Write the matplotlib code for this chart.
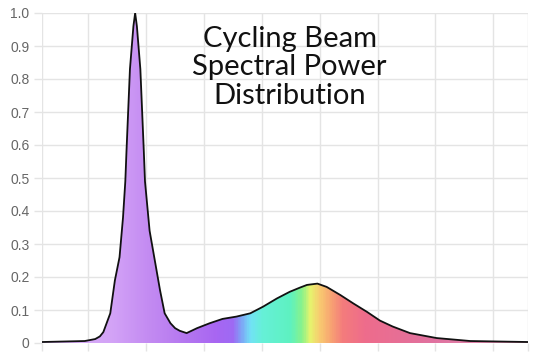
import numpy as np
import matplotlib
matplotlib.use("Agg")
import matplotlib.pyplot as plt
from matplotlib.colors import LinearSegmentedColormap

# spectrum (wavelength nm, relative power)
wavelength = [360, 397, 406, 410, 413, 419, 423, 427, 430, 432, 433, 436, 439, 440.5,
              442, 445, 448, 449, 453, 458, 462, 466, 471, 475, 479, 485, 494, 505,
              516, 528, 540, 551, 563, 574, 583, 589, 598, 606, 618, 629, 641, 652,
              663, 678, 701, 730, 780]
power = [0.003, 0.006, 0.012, 0.02, 0.033, 0.09, 0.19, 0.26, 0.38, 0.49, 0.58, 0.83, 0.96, 1.0,
         0.96, 0.83, 0.58, 0.49, 0.34, 0.24, 0.16, 0.09, 0.06, 0.045, 0.037, 0.03, 0.045, 0.06,
         0.073, 0.08, 0.09, 0.11, 0.135, 0.155, 0.168, 0.176, 0.18, 0.17, 0.145, 0.12, 0.094, 0.068,
         0.05, 0.03, 0.015, 0.006, 0.003]
y_ticks = [0, 0.1, 0.2, 0.3, 0.4, 0.5, 0.6, 0.7, 0.8, 0.9, 1.0]
y_labels = ["0", "0.1", "0.2", "0.3", "0.4", "0.5", "0.6", "0.7", "0.8", "0.9", "1.0"]
x_grid = [360, 400, 450, 500, 550, 600, 650, 700, 750, 780]
title = "Cycling Beam\nSpectral Power\nDistribution"

# fill colours along the wavelength axis
stops = [(360, "#dab2f6"), (420, "#d3a3f7"), (450, "#c48cf2"), (480, "#b679f0"),
         (510, "#a866f2"), (525, "#9e6af4"), (532, "#7ea4f6"), (540, "#72e2f6"),
         (550, "#66f0d8"), (575, "#5ef2c0"), (585, "#8af28a"), (592, "#e6f46e"),
         (600, "#f8cc70"), (610, "#f8a472"), (620, "#f47c7c"), (640, "#ee6c8c"),
         (700, "#e072a0"), (780, "#e094b4")]
lo, hi = x_grid[0], x_grid[-1]
cmap = LinearSegmentedColormap.from_list(
    "spec", [((w - lo) / (hi - lo), c) for w, c in stops])

fig = plt.figure(figsize=(5.43, 3.56), dpi=100)
ax = fig.add_axes([42 / 543, 1 - 343 / 356, 486 / 543, 330 / 356])

grad = np.linspace(0, 1, 600).reshape(1, -1)
img = ax.imshow(grad, cmap=cmap, aspect="auto", extent=[lo, hi, 0, 1], zorder=2)
poly = ax.fill_between(wavelength, power, 0, color="none", zorder=1)
img.set_clip_path(poly.get_paths()[0], transform=ax.transData)
ax.plot(wavelength, power, color="#111111", lw=1.3, zorder=3)

ax.set_xlim(lo, hi)
ax.set_ylim(0, 1.0)
ax.set_xticks(x_grid)
ax.set_xticklabels([])
ax.set_yticks(y_ticks)
ax.set_yticklabels(y_labels, family="Liberation Sans")
ax.grid(True, color="#e4e4e4", lw=1, zorder=0)
ax.set_axisbelow(True)
for s in ax.spines.values():
    s.set_visible(False)
ax.tick_params(axis="both", color="#e4e4e4", length=6, width=1)
ax.tick_params(axis="y", labelcolor="#666666", labelsize=10, pad=3)

ax.text(574, 0.835, title, ha="center", va="center", fontsize=21,
        family="Lato", color="#111111", linespacing=1.14, zorder=4)

fig.savefig("out.png", dpi=100)
